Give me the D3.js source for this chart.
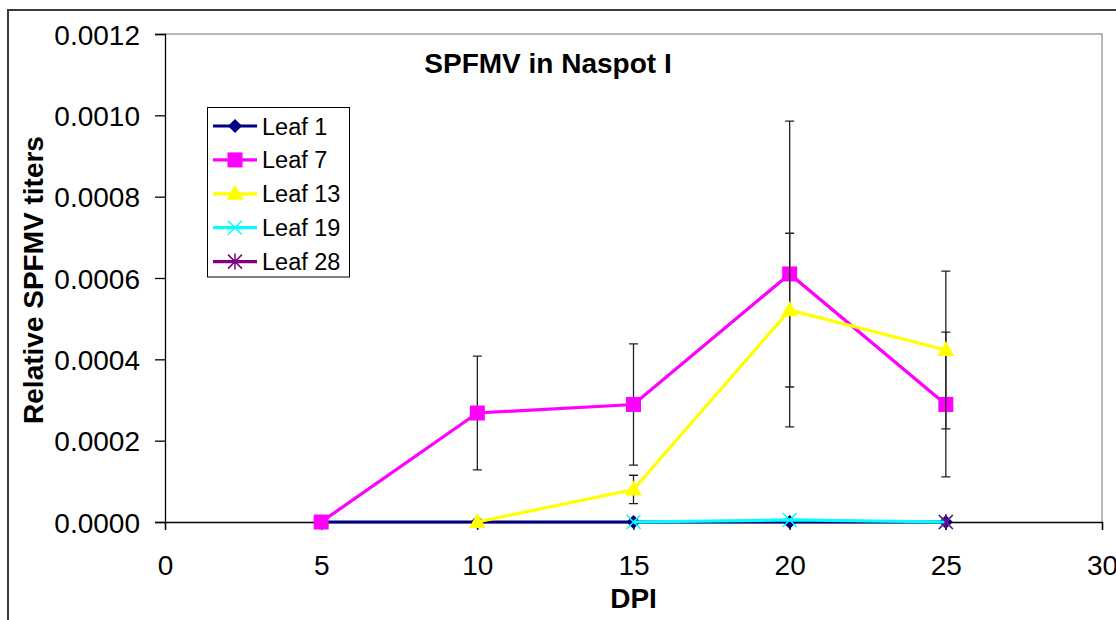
<!DOCTYPE html>
<html><head><meta charset="utf-8">
<script src="https://cdn.jsdelivr.net/npm/d3@7"></script>
<style>
html,body{margin:0;padding:0;background:#fff;}
svg text{font-family:"Liberation Sans",Arial,sans-serif;fill:#000;}
</style></head>
<body>
<svg id="chart" width="1116" height="620"></svg>
<script>
// ---- data ----
const dpi = [5, 10, 15, 20, 25];
const leaf1 = [0, 0, 0, 0, 0];
const leaf7 = [0, 0.000268, 0.000289, 0.000610, 0.000289];
const leaf7Err = [0, 0.000140, 0.000149, 0.000376, 0.000178];
const leaf13 = [null, 0, 0.000080, 0.000521, 0.000423];
const leaf13Err = [null, 0, 0.000035, 0.000189, 0.000194];
const leaf19 = [null, null, 0, 0.000005, 0];
const leaf28 = [null, null, null, null, 0];
const seriesNames = ["Leaf 1", "Leaf 7", "Leaf 13", "Leaf 19", "Leaf 28"];
const xTicks = [0, 5, 10, 15, 20, 25, 30];
const yTicks = [0, 0.0002, 0.0004, 0.0006, 0.0008, 0.0010, 0.0012];
const chartTitle = "SPFMV in Naspot I";
const xTitle = "DPI";
const yTitle = "Relative SPFMV titers";

// ---- styles ----
const colors = ["#000080", "#FF00FF", "#FFFF00", "#00FFFF", "#800080"];
const shapes = ["diamond", "square", "triangle", "x", "asterisk"];

const series = [
  {name: seriesNames[0], values: leaf1, err: null},
  {name: seriesNames[1], values: leaf7, err: leaf7Err},
  {name: seriesNames[2], values: leaf13, err: leaf13Err},
  {name: seriesNames[3], values: leaf19, err: null},
  {name: seriesNames[4], values: leaf28, err: null}
].map((s, i) => ({...s, color: colors[i], shape: shapes[i],
  pts: dpi.map((d, j) => ({x: d, y: s.values[j], e: s.err ? s.err[j] : null})).filter(p => p.y !== null)}));

const svg = d3.select("#chart");
const L = 165, R = 1102, T = 34, B = 522;
const x = d3.scaleLinear().domain([0, 30]).range([L, R]);
const y = d3.scaleLinear().domain([0, 0.0012]).range([B, T]);

// outer chart border
svg.append("rect").attr("x", 8).attr("y", 10).attr("width", 1200).attr("height", 700)
  .attr("fill", "none").attr("stroke", "#3a3a3a").attr("stroke-width", 2);

// plot area border (top/right gray)
svg.append("path").attr("d", `M${L},${T}H${R}V${B}`).attr("fill", "none")
  .attr("stroke", "#a0a0a0").attr("stroke-width", 1.5);

// axes
const yAxis = d3.axisLeft(y).tickValues(yTicks).tickFormat(d3.format(".4f")).tickSize(10).tickPadding(15);
const gy = svg.append("g").attr("transform", `translate(${L},0)`).call(yAxis);
gy.select(".domain").attr("stroke", "#000").attr("stroke-width", 1.3);
gy.selectAll(".tick line").attr("stroke", "#000").attr("stroke-width", 1.3);
gy.selectAll(".tick text").attr("font-size", 28).attr("dy", "0.36em").style("font-family", '"Liberation Sans",Arial,sans-serif');

const xAxis = d3.axisBottom(x).tickValues(xTicks).tickFormat(d3.format("d")).tickSize(8).tickPadding(25);
const gx = svg.append("g").attr("transform", `translate(0,${B})`).call(xAxis);
gx.select(".domain").attr("stroke", "#000").attr("stroke-width", 1.3);
gx.selectAll(".tick line").attr("stroke", "#000").attr("stroke-width", 1.3);
gx.selectAll(".tick text").attr("font-size", 28).attr("dy", "0.71em").style("font-family", '"Liberation Sans",Arial,sans-serif');
gy.attr("font-family", null); gx.attr("font-family", null);

// titles
svg.append("text").attr("x", 548).attr("y", 73).attr("text-anchor", "middle")
  .attr("font-size", 28).attr("font-weight", "bold").text(chartTitle);
svg.append("text").attr("x", (L + R) / 2).attr("y", 608).attr("text-anchor", "middle")
  .attr("font-size", 28).attr("font-weight", "bold").text(xTitle);
svg.append("text").attr("transform", `translate(43,${(T + B) / 2 + 2}) rotate(-90)`)
  .attr("text-anchor", "middle").attr("font-size", 28).attr("font-weight", "bold").text(yTitle);

// marker drawer
function marker(g, shape, color, cx, cy) {
  const s = 7;
  if (shape === "diamond") {
    g.append("path").attr("d", `M${cx},${cy - s}L${cx + s},${cy}L${cx},${cy + s}L${cx - s},${cy}Z`).attr("fill", color);
  } else if (shape === "square") {
    g.append("rect").attr("x", cx - 7.5).attr("y", cy - 7.5).attr("width", 15).attr("height", 15).attr("fill", color);
  } else if (shape === "triangle") {
    g.append("path").attr("d", `M${cx},${cy - 9}L${cx + 8.5},${cy + 6}L${cx - 8.5},${cy + 6}Z`).attr("fill", color);
  } else if (shape === "x") {
    g.append("path").attr("d", `M${cx - 7},${cy - 7}L${cx + 7},${cy + 7}M${cx - 7},${cy + 7}L${cx + 7},${cy - 7}`)
      .attr("stroke", color).attr("stroke-width", 1.5);
  } else if (shape === "asterisk") {
    g.append("path").attr("d", `M${cx - 7},${cy - 7}L${cx + 7},${cy + 7}M${cx - 7},${cy + 7}L${cx + 7},${cy - 7}M${cx},${cy - 8}L${cx},${cy + 8}`)
      .attr("stroke", color).attr("stroke-width", 1.5);
  }
}

const line = d3.line().x(d => x(d.x)).y(d => y(d.y));
const plot = svg.append("g");
series.forEach(s => {
  const g = plot.append("g");
  if (s.pts.length > 1) {
    g.append("path").datum(s.pts).attr("d", line).attr("fill", "none")
      .attr("stroke", s.color).attr("stroke-width", 3.2);
  }
  s.pts.forEach(p => {
    if (p.e) {
      const x0 = x(p.x), y1 = y(p.y + p.e), y2 = y(p.y - p.e);
      g.append("path").attr("d", `M${x0},${y1}V${y2}M${x0 - 4.5},${y1}H${x0 + 4.5}M${x0 - 4.5},${y2}H${x0 + 4.5}`)
        .attr("stroke", "#222").attr("stroke-width", 1.3).attr("fill", "none");
    }
  });
  s.pts.forEach(p => marker(g, s.shape, s.color, x(p.x), y(p.y)));
});

// legend
const lg = svg.append("g");
lg.append("rect").attr("x", 207.5).attr("y", 107.5).attr("width", 142).attr("height", 169.5)
  .attr("fill", "#fff").attr("stroke", "#000").attr("stroke-width", 1);
series.forEach((s, i) => {
  const cy = 126 + i * 33.9;
  lg.append("line").attr("x1", 213).attr("x2", 257).attr("y1", cy).attr("y2", cy)
    .attr("stroke", s.color).attr("stroke-width", 3.2);
  marker(lg, s.shape, s.color, 235, cy);
  lg.append("text").attr("x", 262).attr("y", cy + 8.5).attr("font-size", 23.5).text(s.name);
});
</script>
</body></html>
